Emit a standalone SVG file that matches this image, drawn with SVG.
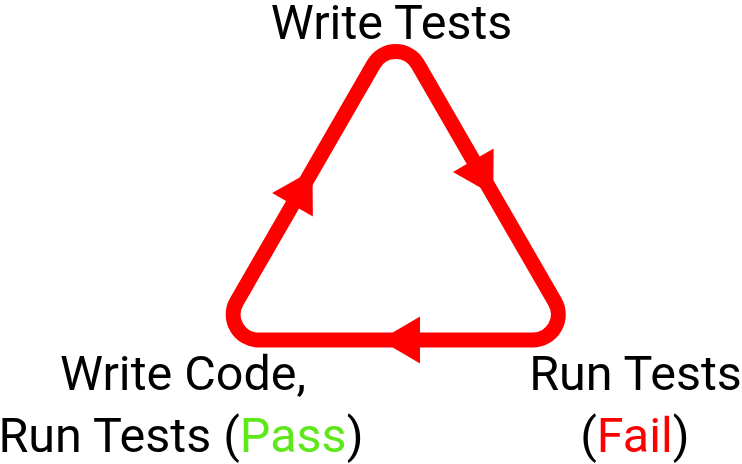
<svg xmlns="http://www.w3.org/2000/svg" width="742" height="464" viewBox="0 0 742 464">
<style>
.lbl{font-family:Roboto,"Liberation Sans",sans-serif;font-size:48.5px;fill:#000;text-anchor:middle}
.loop{fill:none;stroke:#ff0000;stroke-width:15}
.head{fill:#ff0000}
.pass{fill:#5ee81a}
.fail{fill:#ff0000}
</style>
<defs>
<path id="ah" d="M20,0 L-20,-23.5 L-20,23.5 Z"/>
</defs>
<g id="connectors">
<path class="loop" d="M373.65,64.25 A25.5,25.5 0 0 1 417.85,64.25 L554.9,301.75 A25.5,25.5 0 0 1 532.8,340 L258.7,340 A25.5,25.5 0 0 1 236.6,301.75 Z"/>
<use href="#ah" class="head" transform="translate(483.3,177.6) rotate(60)"/>
<use href="#ah" class="head" transform="translate(400,340) rotate(180)"/>
<use href="#ah" class="head" transform="translate(302.5,187.5) rotate(-60)"/>
</g>
<g id="write-tests">
<text class="lbl" x="391.5" y="38.5">Write Tests</text>
</g>
<g id="run-tests-fail">
<text class="lbl" x="635.5" y="390">Run Tests</text>
<text class="lbl" x="635" y="451.5">(<tspan class="fail">Fail</tspan>)</text>
</g>
<g id="write-code-pass">
<text class="lbl" x="183" y="390">Write Code,</text>
<text class="lbl" x="181" y="451.5">Run Tests (<tspan class="pass">Pass</tspan>)</text>
</g>
</svg>
